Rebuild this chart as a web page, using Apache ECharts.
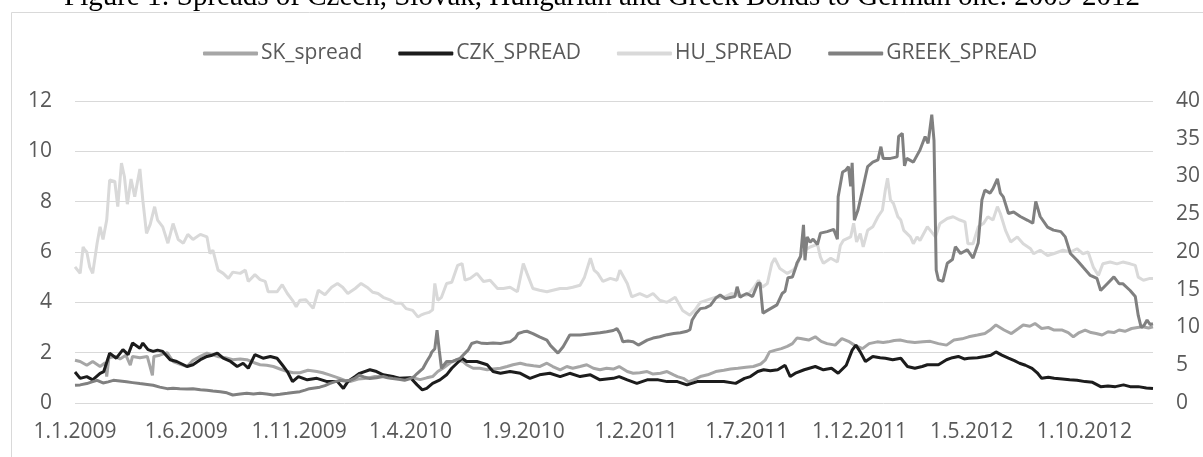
<!DOCTYPE html>
<html>
<head>
<meta charset="utf-8">
<script src="https://cdn.jsdelivr.net/npm/echarts@6/dist/echarts.min.js"></script>
<style>
html,body{margin:0;padding:0;background:#fff;}
#chart{width:1203px;height:457px;}
</style>
</head>
<body>
<div id="chart"></div>
<script>
const titleText = 'Figure 1: Spreads of Czech, Slovak, Hungarian and Greek Bonds to German one. 2009-2012';
const seriesNames = ['SK_spread', 'CZK_SPREAD', 'HU_SPREAD', 'GREEK_SPREAD'];
const tickLabels = ['1.1.2009','1.6.2009','1.11.2009','1.4.2010','1.9.2010','1.2.2011','1.7.2011','1.12.2011','1.5.2012','1.10.2012'];
const leftTicks = [0, 2, 4, 6, 8, 10, 12];
const rightTicks = [0, 5, 10, 15, 20, 25, 30, 35, 40];
const xRange = ['2009-01-01', '2013-01-02'];

const skSpread = [
['2009-01-01',1.7],['2009-01-08',1.65],['2009-01-17',1.5],['2009-01-25',1.65],['2009-02-04',1.45],['2009-02-11',1.6],['2009-02-13',1.05],['2009-02-16',1.8],['2009-02-24',1.85],['2009-03-03',1.75],['2009-03-11',1.9],['2009-03-17',1.5],['2009-03-20',1.85],['2009-03-30',1.8],['2009-04-09',1.85],['2009-04-16',1.1],['2009-04-18',1.85],['2009-04-26',1.9],['2009-05-06',2.0],['2009-05-14',1.65],['2009-05-23',1.55],['2009-06-02',1.45],['2009-06-10',1.7],['2009-06-20',1.85],['2009-06-29',1.98],['2009-07-13',1.85],['2009-07-24',1.8],['2009-08-03',1.72],['2009-08-13',1.75],['2009-08-22',1.72],['2009-09-01',1.6],['2009-09-09',1.52],['2009-09-18',1.5],['2009-09-27',1.45],['2009-10-06',1.35],['2009-10-16',1.25],['2009-10-24',1.2],['2009-11-02',1.2],['2009-11-13',1.3],['2009-11-25',1.25],['2009-12-03',1.2],['2009-12-12',1.12],['2009-12-19',1.05],['2009-12-26',0.98],
['2010-01-02',0.9],['2010-01-09',0.85],['2010-01-20',0.95],['2010-02-01',0.98],['2010-02-12',1.05],['2010-02-23',1.05],['2010-03-05',1.0],['2010-03-18',0.98],['2010-03-27',0.98],['2010-04-04',1.0],['2010-04-14',0.93],['2010-04-23',1.0],['2010-05-01',1.05],['2010-05-08',1.25],['2010-05-15',1.38],['2010-05-25',1.6],['2010-06-03',1.72],['2010-06-11',1.65],['2010-06-16',1.52],['2010-06-25',1.38],['2010-07-04',1.38],['2010-07-14',1.32],['2010-07-22',1.35],['2010-08-01',1.38],['2010-08-10',1.45],['2010-08-18',1.52],['2010-08-28',1.58],['2010-09-05',1.52],['2010-09-15',1.48],['2010-09-23',1.45],['2010-10-03',1.58],['2010-10-11',1.45],['2010-10-21',1.32],['2010-10-30',1.45],['2010-11-07',1.38],['2010-11-17',1.45],['2010-11-26',1.52],['2010-12-05',1.38],['2010-12-14',1.32],['2010-12-23',1.38],
['2011-01-01',1.35],['2011-01-09',1.45],['2011-01-20',1.25],['2011-01-28',1.18],['2011-02-06',1.2],['2011-02-16',1.25],['2011-02-24',1.15],['2011-03-06',1.18],['2011-03-15',1.25],['2011-03-24',1.12],['2011-03-29',1.05],['2011-04-06',0.98],['2011-04-13',0.84],['2011-04-20',0.92],['2011-04-29',1.05],['2011-05-09',1.12],['2011-05-20',1.25],['2011-05-31',1.3],['2011-06-09',1.35],['2011-06-19',1.38],['2011-06-30',1.42],['2011-07-10',1.45],['2011-07-20',1.55],['2011-07-26',1.7],['2011-08-01',2.03],['2011-08-09',2.1],['2011-08-17',2.16],['2011-08-25',2.25],['2011-09-01',2.36],['2011-09-07',2.58],['2011-09-12',2.56],['2011-09-23',2.5],['2011-10-02',2.63],['2011-10-10',2.45],['2011-10-18',2.36],['2011-10-29',2.3],['2011-11-07',2.56],['2011-11-16',2.45],['2011-11-24',2.3],['2011-12-05',2.16],['2011-12-14',2.36],['2011-12-25',2.43],
['2012-01-02',2.4],['2012-01-09',2.43],['2012-01-17',2.48],['2012-01-25',2.5],['2012-02-05',2.43],['2012-02-14',2.4],['2012-02-25',2.43],['2012-03-06',2.45],['2012-03-17',2.36],['2012-03-28',2.3],['2012-04-07',2.5],['2012-04-18',2.55],['2012-04-27',2.63],['2012-05-09',2.7],['2012-05-19',2.76],['2012-05-26',2.9],['2012-06-03',3.1],['2012-06-14',2.9],['2012-06-24',2.76],['2012-07-03',2.95],['2012-07-10',3.1],['2012-07-19',3.05],['2012-07-26',3.16],['2012-08-04',2.96],['2012-08-13',3.0],['2012-08-21',2.9],['2012-09-01',2.9],['2012-09-09',2.8],['2012-09-16',2.63],['2012-09-24',2.8],['2012-10-02',2.9],['2012-10-10',2.8],['2012-10-17',2.76],['2012-10-25',2.7],['2012-11-02',2.83],['2012-11-10',2.8],['2012-11-17',2.9],['2012-11-25',2.85],['2012-12-04',2.96],['2012-12-12',3.0],['2012-12-19',3.03],['2012-12-27',2.98],['2013-01-02',3.03]
];

const czkSpread = [
['2009-01-01',1.23],['2009-01-08',0.98],['2009-01-17',1.05],['2009-01-25',0.92],['2009-02-04',1.18],['2009-02-09',1.25],['2009-02-17',1.98],['2009-02-26',1.78],['2009-03-07',2.12],['2009-03-14',1.92],['2009-03-20',2.38],['2009-03-30',2.18],['2009-04-03',2.38],['2009-04-10',2.12],['2009-04-17',2.05],['2009-04-23',2.1],['2009-04-30',2.05],['2009-05-10',1.72],['2009-05-19',1.65],['2009-05-26',1.55],['2009-06-02',1.45],['2009-06-10',1.52],['2009-06-20',1.72],['2009-06-29',1.85],['2009-07-06',1.9],['2009-07-13',1.98],['2009-07-21',1.78],['2009-07-31',1.65],['2009-08-09',1.45],['2009-08-17',1.58],['2009-08-24',1.38],['2009-09-02',1.92],['2009-09-13',1.78],['2009-09-23',1.85],['2009-10-02',1.78],['2009-10-09',1.52],['2009-10-16',1.25],['2009-10-23',0.85],['2009-10-31',1.05],['2009-11-12',0.92],['2009-11-25',0.98],['2009-12-09',0.85],['2009-12-23',0.85],['2009-12-31',0.58],
['2010-01-06',0.85],['2010-01-16',1.05],['2010-01-22',1.18],['2010-02-05',1.32],['2010-02-14',1.25],['2010-02-23',1.12],['2010-03-08',1.05],['2010-03-18',0.98],['2010-04-01',1.0],['2010-04-10',0.72],['2010-04-17',0.52],['2010-04-23',0.58],['2010-05-01',0.78],['2010-05-11',0.92],['2010-05-20',1.12],['2010-05-27',1.38],['2010-06-03',1.58],['2010-06-10',1.78],['2010-06-16',1.65],['2010-06-30',1.65],['2010-07-14',1.52],['2010-07-22',1.25],['2010-08-01',1.18],['2010-08-14',1.25],['2010-08-28',1.18],['2010-09-10',0.98],['2010-09-23',1.12],['2010-10-07',1.18],['2010-10-21',1.05],['2010-11-03',1.18],['2010-11-17',1.05],['2010-12-01',1.12],['2010-12-14',0.92],
['2011-01-01',0.98],['2011-01-09',1.05],['2011-01-20',0.92],['2011-02-02',0.78],['2011-02-16',0.92],['2011-03-03',0.92],['2011-03-15',0.85],['2011-03-29',0.85],['2011-04-11',0.72],['2011-04-25',0.85],['2011-05-10',0.85],['2011-05-31',0.85],['2011-06-16',0.78],['2011-06-28',0.98],['2011-07-06',1.05],['2011-07-16',1.25],['2011-07-24',1.32],['2011-08-02',1.28],['2011-08-12',1.32],['2011-08-22',1.5],['2011-08-29',1.05],['2011-09-06',1.2],['2011-09-17',1.32],['2011-10-02',1.45],['2011-10-13',1.32],['2011-10-24',1.38],['2011-11-02',1.18],['2011-11-13',1.5],['2011-11-21',2.1],['2011-11-26',2.3],['2011-12-02',2.03],['2011-12-09',1.65],['2011-12-19',1.85],['2011-12-29',1.8],
['2012-01-05',1.78],['2012-01-15',1.72],['2012-01-26',1.78],['2012-02-04',1.45],['2012-02-14',1.38],['2012-02-24',1.45],['2012-03-02',1.52],['2012-03-17',1.52],['2012-03-28',1.72],['2012-04-05',1.8],['2012-04-13',1.85],['2012-04-21',1.75],['2012-04-27',1.78],['2012-05-09',1.8],['2012-05-19',1.85],['2012-05-27',1.9],['2012-06-03',2.03],['2012-06-11',1.9],['2012-06-20',1.78],['2012-06-28',1.68],['2012-07-05',1.58],['2012-07-13',1.5],['2012-07-22',1.38],['2012-07-29',1.2],['2012-08-04',0.98],['2012-08-13',1.02],['2012-08-21',0.98],['2012-09-01',0.95],['2012-09-11',0.92],['2012-09-21',0.9],['2012-10-02',0.85],['2012-10-12',0.82],['2012-10-23',0.65],['2012-11-02',0.68],['2012-11-12',0.65],['2012-11-23',0.72],['2012-12-02',0.65],['2012-12-13',0.65],['2012-12-24',0.6],['2013-01-02',0.58]
];

const huSpread = [
['2009-01-01',5.41],['2009-01-08',5.15],['2009-01-12',6.2],['2009-01-14',6.1],['2009-01-17',6.0],['2009-01-21',5.4],['2009-01-25',5.15],['2009-01-31',6.35],['2009-02-04',7.0],['2009-02-08',6.5],['2009-02-13',7.27],['2009-02-17',8.86],['2009-02-24',8.8],['2009-02-28',7.8],['2009-03-05',9.53],['2009-03-09',9.0],['2009-03-13',7.9],['2009-03-18',8.9],['2009-03-23',8.2],['2009-03-30',9.3],['2009-04-03',8.05],['2009-04-08',6.74],['2009-04-13',7.1],['2009-04-19',7.8],['2009-04-23',7.27],['2009-04-30',7.0],['2009-05-07',6.35],['2009-05-14',7.13],['2009-05-21',6.5],['2009-05-28',6.35],['2009-06-03',6.7],['2009-06-10',6.5],['2009-06-20',6.7],['2009-06-29',6.6],['2009-07-03',5.94],['2009-07-07',6.07],['2009-07-14',5.28],['2009-07-21',5.15],['2009-07-28',4.95],['2009-08-03',5.2],['2009-08-13',5.15],['2009-08-20',5.28],['2009-08-24',4.83],['2009-09-02',5.1],['2009-09-09',4.9],['2009-09-16',4.83],['2009-09-20',4.42],['2009-10-02',4.42],['2009-10-09',4.7],['2009-10-16',4.35],['2009-10-23',4.08],['2009-10-28',3.82],['2009-11-02',4.08],['2009-11-10',4.1],['2009-11-20',3.76],['2009-11-27',4.48],['2009-12-06',4.3],['2009-12-15',4.6],['2009-12-23',4.75],['2009-12-30',4.6],
['2010-01-06',4.35],['2010-01-16',4.55],['2010-01-24',4.75],['2010-02-01',4.6],['2010-02-09',4.4],['2010-02-16',4.35],['2010-02-23',4.2],['2010-03-04',4.1],['2010-03-12',3.96],['2010-03-20',3.96],['2010-03-26',3.75],['2010-04-04',3.68],['2010-04-11',3.42],['2010-04-15',3.49],['2010-04-20',3.55],['2010-04-26',3.6],['2010-05-01',3.7],['2010-05-04',4.75],['2010-05-08',4.08],['2010-05-13',4.2],['2010-05-20',4.75],['2010-05-27',4.8],['2010-06-04',5.47],['2010-06-10',5.54],['2010-06-14',4.88],['2010-06-21',4.95],['2010-06-30',5.15],['2010-07-09',4.83],['2010-07-18',4.88],['2010-07-28',4.55],['2010-08-05',4.55],['2010-08-14',4.6],['2010-08-24',4.42],['2010-09-01',5.54],['2010-09-06',5.15],['2010-09-14',4.55],['2010-09-23',4.48],['2010-10-03',4.42],['2010-10-11',4.48],['2010-10-21',4.55],['2010-10-30',4.55],['2010-11-07',4.6],['2010-11-17',4.68],['2010-11-23',5.0],['2010-12-01',5.75],['2010-12-06',5.28],['2010-12-11',5.15],['2010-12-18',4.83],['2010-12-28',4.95],
['2011-01-06',4.88],['2011-01-10',5.28],['2011-01-20',4.75],['2011-01-26',4.22],['2011-02-06',4.35],['2011-02-16',4.22],['2011-02-24',4.35],['2011-03-05',4.08],['2011-03-15',4.0],['2011-03-26',4.2],['2011-04-05',3.68],['2011-04-15',3.49],['2011-04-22',3.7],['2011-04-29',4.0],['2011-05-09',4.1],['2011-05-20',4.2],['2011-05-31',4.2],['2011-06-10',4.35],['2011-06-20',4.28],['2011-07-01',4.28],['2011-07-06',4.42],['2011-07-11',4.6],['2011-07-17',4.88],['2011-07-22',4.6],['2011-07-29',4.75],['2011-08-04',5.54],['2011-08-08',5.75],['2011-08-15',5.34],['2011-08-25',5.15],['2011-09-02',5.28],['2011-09-07',5.47],['2011-09-14',6.0],['2011-09-25',6.2],['2011-10-05',6.3],['2011-10-09',5.8],['2011-10-13',5.55],['2011-10-23',5.75],['2011-11-01',5.6],['2011-11-05',6.26],['2011-11-09',6.46],['2011-11-19',6.6],['2011-11-23',7.14],['2011-11-27',6.4],['2011-12-02',6.73],['2011-12-06',6.2],['2011-12-12',6.86],['2011-12-19',7.0],['2011-12-26',7.4],
['2012-01-01',7.66],['2012-01-05',8.46],['2012-01-08',8.93],['2012-01-12',8.07],['2012-01-16',7.93],['2012-01-22',7.4],['2012-01-26',7.27],['2012-01-30',6.86],['2012-02-08',6.6],['2012-02-12',6.33],['2012-02-17',6.6],['2012-02-21',6.46],['2012-03-02',7.0],['2012-03-06',6.86],['2012-03-13',6.6],['2012-03-19',7.13],['2012-03-29',7.33],['2012-04-06',7.4],['2012-04-15',7.27],['2012-04-22',7.2],['2012-04-26',6.33],['2012-05-03',6.33],['2012-05-10',7.0],['2012-05-17',7.13],['2012-05-23',7.4],['2012-05-30',7.27],['2012-06-05',7.8],['2012-06-09',7.53],['2012-06-16',6.86],['2012-06-23',6.4],['2012-07-02',6.6],['2012-07-10',6.33],['2012-07-20',6.13],['2012-07-24',5.93],['2012-08-02',6.07],['2012-08-12',5.86],['2012-08-20',5.93],['2012-09-02',6.07],['2012-09-12',6.0],['2012-09-21',6.13],['2012-09-29',5.93],['2012-10-06',6.0],['2012-10-13',5.4],['2012-10-20',5.07],['2012-10-26',5.53],['2012-11-05',5.6],['2012-11-14',5.53],['2012-11-22',5.6],['2012-12-02',5.53],['2012-12-09',5.47],['2012-12-13',5.0],['2012-12-20',4.88],['2012-12-29',4.95],['2013-01-02',4.95]
];

const greekSpread = [
['2009-01-01',2.35],['2009-01-08',2.4],['2009-01-17',2.57],['2009-01-24',2.8],['2009-01-31',3.0],['2009-02-08',2.65],['2009-02-15',2.8],['2009-02-22',3.0],['2009-03-03',2.9],['2009-03-12',2.8],['2009-03-20',2.7],['2009-03-30',2.57],['2009-04-09',2.45],['2009-04-17',2.35],['2009-04-26',2.1],['2009-05-06',1.9],['2009-05-14',1.95],['2009-05-23',1.9],['2009-06-02',1.85],['2009-06-10',1.9],['2009-06-20',1.75],['2009-06-29',1.7],['2009-07-07',1.6],['2009-07-17',1.5],['2009-07-26',1.35],['2009-08-03',1.06],['2009-08-13',1.2],['2009-08-22',1.28],['2009-08-31',1.2],['2009-09-09',1.28],['2009-09-18',1.2],['2009-09-27',1.06],['2009-10-06',1.15],['2009-10-16',1.28],['2009-10-24',1.4],['2009-11-02',1.5],['2009-11-09',1.7],['2009-11-15',1.9],['2009-11-22',2.0],['2009-11-29',2.1],['2009-12-06',2.3],['2009-12-12',2.57],['2009-12-19',2.8],['2009-12-26',3.0],
['2010-01-02',2.9],['2010-01-09',3.0],['2010-01-16',3.3],['2010-01-22',3.7],['2010-01-29',3.4],['2010-02-05',3.24],['2010-02-14',3.35],['2010-02-23',3.5],['2010-03-01',3.35],['2010-03-08',3.24],['2010-03-18',3.1],['2010-03-24',3.0],['2010-04-01',3.24],['2010-04-06',3.5],['2010-04-10',3.9],['2010-04-18',4.6],['2010-04-23',5.5],['2010-04-28',6.3],['2010-04-30',6.77],['2010-05-04',7.2],['2010-05-07',9.65],['2010-05-10',7.0],['2010-05-13',4.6],['2010-05-20',5.5],['2010-05-28',5.5],['2010-06-07',5.9],['2010-06-14',6.6],['2010-06-18',7.0],['2010-06-23',7.88],['2010-06-30',8.1],['2010-07-07',7.9],['2010-07-14',7.88],['2010-07-22',7.95],['2010-08-01',7.88],['2010-08-07',8.0],['2010-08-14',8.1],['2010-08-21',8.6],['2010-08-25',9.2],['2010-09-01',9.43],['2010-09-06',9.5],['2010-09-14',9.2],['2010-09-23',8.77],['2010-10-03',8.33],['2010-10-08',7.6],['2010-10-14',7.0],['2010-10-18',6.6],['2010-10-25',7.45],['2010-10-30',8.3],['2010-11-03',9.0],['2010-11-10',9.0],['2010-11-17',9.0],['2010-11-26',9.1],['2010-12-05',9.2],['2010-12-14',9.3],['2010-12-23',9.43],
['2011-01-01',9.6],['2011-01-06',9.85],['2011-01-10',9.2],['2011-01-14',8.1],['2011-01-21',8.2],['2011-01-28',8.1],['2011-02-04',7.67],['2011-02-10',8.0],['2011-02-16',8.33],['2011-02-24',8.6],['2011-03-05',8.77],['2011-03-15',9.05],['2011-03-24',9.2],['2011-04-02',9.3],['2011-04-11',9.5],['2011-04-15',9.7],['2011-04-18',11.0],['2011-04-23',11.8],['2011-04-29',12.5],['2011-05-06',12.6],['2011-05-13',12.95],['2011-05-20',13.9],['2011-05-26',14.3],['2011-06-02',13.8],['2011-06-10',14.0],['2011-06-15',14.1],['2011-06-18',15.4],['2011-06-22',14.0],['2011-06-27',14.3],['2011-07-01',14.5],['2011-07-09',14.1],['2011-07-16',15.8],['2011-07-19',15.9],['2011-07-23',11.9],['2011-07-28',12.2],['2011-08-04',12.6],['2011-08-11',13.0],['2011-08-18',14.5],['2011-08-22',14.8],['2011-08-26',16.6],['2011-09-01',16.7],['2011-09-05',17.8],['2011-09-07',18.5],['2011-09-12',19.4],['2011-09-16',23.6],['2011-09-18',18.9],['2011-09-21',22.0],['2011-09-25',21.3],['2011-09-29',21.7],['2011-10-05',21.0],['2011-10-09',22.5],['2011-10-18',22.7],['2011-10-27',23.0],['2011-11-01',21.7],['2011-11-02',27.3],['2011-11-08',30.6],['2011-11-12',30.8],['2011-11-16',31.3],['2011-11-19',28.7],['2011-11-21',31.8],['2011-11-24',24.2],['2011-11-29',25.6],['2011-12-05',28.2],['2011-12-09',30.0],['2011-12-12',31.3],['2011-12-19',31.9],['2011-12-26',32.2],['2011-12-30',33.95],
['2012-01-02',32.4],['2012-01-12',32.4],['2012-01-21',32.6],['2012-01-23',35.3],['2012-01-28',35.7],['2012-01-31',31.4],['2012-02-03',32.4],['2012-02-12',31.9],['2012-02-17',32.8],['2012-02-21',33.5],['2012-02-28',35.3],['2012-03-03',34.4],['2012-03-08',38.2],['2012-03-11',34.8],['2012-03-14',17.6],['2012-03-17',16.3],['2012-03-23',16.1],['2012-03-29',18.5],['2012-04-05',19.0],['2012-04-09',20.7],['2012-04-16',19.8],['2012-04-25',20.3],['2012-05-03',19.2],['2012-05-10',21.2],['2012-05-15',26.9],['2012-05-19',28.2],['2012-05-26',27.8],['2012-05-30',28.4],['2012-06-05',29.7],['2012-06-09',27.8],['2012-06-13',27.3],['2012-06-20',25.1],['2012-06-27',25.3],['2012-07-06',24.7],['2012-07-16',24.2],['2012-07-23',23.8],['2012-07-27',26.7],['2012-08-02',24.7],['2012-08-12',23.3],['2012-08-20',22.9],['2012-08-30',22.7],['2012-09-05',22.0],['2012-09-12',19.8],['2012-09-21',18.9],['2012-09-29',18.0],['2012-10-09',16.9],['2012-10-18',16.5],['2012-10-23',14.9],['2012-11-01',15.8],['2012-11-10',16.7],['2012-11-17',15.8],['2012-11-22',15.8],['2012-12-02',14.9],['2012-12-09',14.1],['2012-12-13',11.6],['2012-12-17',10.0],['2012-12-21',10.3],['2012-12-25',11.0],['2012-12-29',10.4],['2013-01-02',10.5]
];

function isoToTime(s) {
  const p = s.split('-');
  return new Date(+p[0], +p[1] - 1, +p[2]).getTime();
}
function labelToTime(s) {
  const p = s.split('.');
  return new Date(+p[2], +p[1] - 1, +p[0]).getTime();
}
function timeToLabel(v) {
  const d = new Date(v);
  return d.getDate() + '.' + (d.getMonth() + 1) + '.' + d.getFullYear();
}
function toXY(arr) { return arr.map(p => [isoToTime(p[0]), p[1]]); }
const tickTimes = tickLabels.map(labelToTime);

const FONT = 'Open Sans';
const GREY = '#595959';

const chart = echarts.init(document.getElementById('chart'), null, {renderer: 'canvas'});
chart.setOption({
  animation: false,
  backgroundColor: '#fff',
  graphic: [
    {
      type: 'rect', silent: true, z: -10,
      shape: {x: 11.5, y: 12.5, width: 1250, height: 500},
      style: {fill: 'none', stroke: '#d9d9d9', lineWidth: 1}
    },
    {
      type: 'text', silent: true,
      x: 64, y: -3,
      style: {
        text: titleText, fill: '#000',
        font: '29px "Liberation Serif", "Times New Roman", serif',
        align: 'left', verticalAlign: 'middle'
      }
    }
  ],
  legend: {
    data: seriesNames,
    left: 198, top: 38,
    icon: 'roundRect',
    itemWidth: 55, itemHeight: 4, itemGap: 36,
    textStyle: {color: GREY, fontSize: 21, fontFamily: FONT, padding: [0, 0, 0, -2]}
  },
  grid: {left: 75, right: 50, top: 101, bottom: 54},
  xAxis: {
    type: 'value',
    min: isoToTime(xRange[0]),
    max: isoToTime(xRange[1]),
    axisLine: {show: false},
    axisTick: {show: false},
    splitLine: {show: false},
    axisLabel: {
      customValues: tickTimes,
      formatter: (v) => timeToLabel(v),
      color: GREY, fontSize: 21, fontFamily: FONT, margin: 19,
      hideOverlap: false
    }
  },
  yAxis: [
    {
      type: 'value', min: leftTicks[0], max: leftTicks[leftTicks.length - 1], interval: leftTicks[1] - leftTicks[0],
      axisLine: {show: false}, axisTick: {show: false},
      axisLabel: {color: GREY, fontSize: 21, fontFamily: FONT, margin: 23},
      splitLine: {lineStyle: {color: '#d9d9d9', width: 1}}
    },
    {
      type: 'value', min: rightTicks[0], max: rightTicks[rightTicks.length - 1], interval: rightTicks[1] - rightTicks[0],
      axisLine: {show: false}, axisTick: {show: false},
      axisLabel: {color: GREY, fontSize: 21, fontFamily: FONT, margin: 23},
      splitLine: {show: false}
    }
  ],
  series: [
    {name: seriesNames[0], type: 'line', yAxisIndex: 0, data: toXY(skSpread), symbol: 'none',
     lineStyle: {color: '#a6a6a6', width: 3}, itemStyle: {color: '#a6a6a6'}, z: 2},
    {name: seriesNames[1], type: 'line', yAxisIndex: 0, data: toXY(czkSpread), symbol: 'none',
     lineStyle: {color: '#1c1c1c', width: 3}, itemStyle: {color: '#1c1c1c'}, z: 3},
    {name: seriesNames[2], type: 'line', yAxisIndex: 0, data: toXY(huSpread), symbol: 'none',
     lineStyle: {color: '#d9d9d9', width: 3}, itemStyle: {color: '#d9d9d9'}, z: 2},
    {name: seriesNames[3], type: 'line', yAxisIndex: 1, data: toXY(greekSpread), symbol: 'none',
     lineStyle: {color: '#808080', width: 3}, itemStyle: {color: '#808080'}, z: 4}
  ]
});
</script>
</body>
</html>
